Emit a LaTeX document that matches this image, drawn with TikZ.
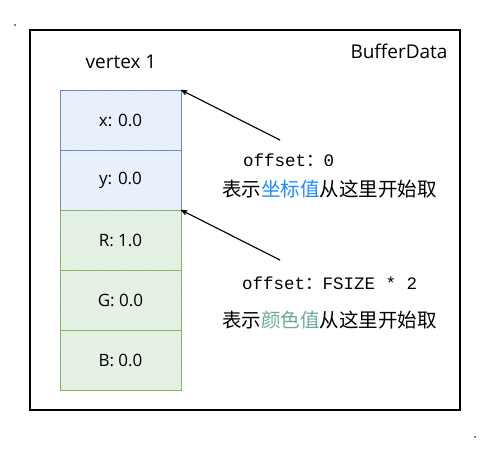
\documentclass[tikz,border=0pt]{standalone}
\usepackage{fontspec}
\setmainfont{Open Sans}
\setmonofont{Liberation Mono}
\newfontfamily\cjk{Noto Sans CJK SC}
\usepackage{tikz}
\usetikzlibrary{arrows}
\usetikzlibrary{patterns}
\definecolor{blueline}{HTML}{6C8EBF}
\definecolor{bluefill}{HTML}{DAE8FC}
\definecolor{greenline}{HTML}{82B366}
\definecolor{greenfill}{HTML}{D5E8D4}
\definecolor{coordblue}{HTML}{1A8CFF}
\definecolor{colorteal}{HTML}{67AB9F}
\tikzset{
  cell/.style={minimum width=121pt,minimum height=60pt,inner sep=0pt,outer sep=0pt,
    line width=0.035cm,font=\fontsize{17}{19}\selectfont},
  bluecell/.style={cell,draw=blueline,preaction={fill=bluefill!40},
    pattern=north east lines,pattern color=bluefill},
  greencell/.style={cell,draw=greenline,preaction={fill=greenfill!40},
    pattern=north east lines,pattern color=greenfill},
  offtext/.style={anchor=west,inner sep=0pt,font=\ttfamily\fontsize{17.5}{19}\selectfont},
  hinttext/.style={anchor=west,inner sep=0pt,font=\cjk\fontsize{19.5}{22}\selectfont},
}
\begin{document}
\begin{tikzpicture}[x=1pt,y=-1pt]
\useasboundingbox (0,0) rectangle (491,451);
\fill[black] (15,25) circle (0.8);
\fill[black] (475,437) circle (0.8);
\draw[line width=0.045cm,black] (30,30) rectangle (460,410);
\node (title) [anchor=east,font=\fontsize{19}{22}\selectfont] at (451,51) {BufferData};
\node (vertex) [font=\fontsize{19}{22}\selectfont] at (121,62) {vertex 1};
% position data
\node (xcell) [bluecell] at (120.5,120) {x: 0.0};
\node (ycell) [bluecell] at (120.5,180) {y: 0.0};
% colour data
\node (rcell) [greencell] at (120.5,240) {R: 1.0};
\node (gcell) [greencell] at (120.5,300) {G: 0.0};
\node (bcell) [greencell] at (120.5,360) {B: 0.0};
\node (offpos) [offtext] at (243,160) {offset{\cjk ：}0};
\node (hintpos) [hinttext] at (222,189) {表示\textcolor{coordblue}{坐标值}从这里开始取};
\node (offcol) [offtext] at (242,283) {offset{\cjk ：}FSIZE * 2};
\node (hintcol) [hinttext] at (222,320) {表示\textcolor{colorteal}{颜色值}从这里开始取};
\coordinate (tailpos) at (280,140);
\coordinate (tailcol) at (280,260);
\draw[line width=0.04cm,black,-stealth'] (tailpos) -- (xcell.north east);
\draw[line width=0.04cm,black,-stealth'] (tailcol) -- (rcell.north east);
\end{tikzpicture}
\end{document}
